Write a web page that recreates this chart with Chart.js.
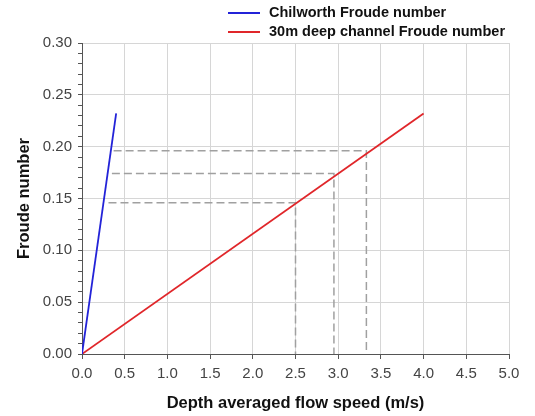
<!DOCTYPE html>
<html>
<head>
<meta charset="utf-8">
<script src="https://cdn.jsdelivr.net/npm/chart.js@4/dist/chart.umd.min.js"></script>
<style>
  html, body { margin: 0; padding: 0; background: #fff; }
  #wrap { width: 535px; height: 416px; }
</style>
</head>
<body>
<div id="wrap"><canvas id="froudeChart" width="535" height="416"></canvas></div>
<script>
// Data
const chilworthSpeed = [0, 0.4];
const chilworthFroude = [0, 0.232];
const channelSpeed = [0, 4.0];
const channelFroude = [0, 0.232];

// Dashed guide lines: start speed, Froude level, speed where it drops down
const guideStart = [0.31, 0.35, 0.37];
const guideFroude = [0.146, 0.174, 0.196];
const guideSpeed = [2.5, 2.95, 3.33];

const seriesLabels = ['Chilworth Froude number', '30m deep channel Froude number'];
const seriesColors = ['#2323d8', '#e0262a'];

const FONT = 'Liberation Sans, Arial, sans-serif';

function toPoints(xs, ys){
  return xs.map((x, i) => ({x: x, y: ys[i]}));
}

let datasets = [
  {
    label: seriesLabels[0],
    data: toPoints(chilworthSpeed, chilworthFroude),
    borderColor: seriesColors[0],
    borderWidth: 1.8,
    pointRadius: 0
  },
  {
    label: seriesLabels[1],
    data: toPoints(channelSpeed, channelFroude),
    borderColor: seriesColors[1],
    borderWidth: 1.8,
    pointRadius: 0
  }
];

// one dashed dataset per guide: across, then down to the axis
for (let i = 0; i < guideFroude.length; i++) {
  datasets.push({
    label: 'guide' + i,
    data: [
      {x: guideStart[i], y: guideFroude[i]},
      {x: guideSpeed[i], y: guideFroude[i]},
      {x: guideSpeed[i], y: 0}
    ],
    borderColor: '#a0a0a0',
    borderWidth: 1.5,
    borderDash: [8, 4],
    pointRadius: 0
  });
}

// Legend drawn by hand, top right, stacked
const stackedLegend = {
  id: 'stackedLegend',
  afterDraw(chart){
    const ctx = chart.ctx;
    ctx.save();
    ctx.font = 'bold 14.5px ' + FONT;
    ctx.textBaseline = 'middle';
    ctx.fillStyle = '#111';
    for (let i = 0; i < seriesLabels.length; i++) {
      const y = 13 + i * 19;
      ctx.strokeStyle = seriesColors[i];
      ctx.lineWidth = 2;
      ctx.beginPath();
      ctx.moveTo(228, y);
      ctx.lineTo(260, y);
      ctx.stroke();
      ctx.fillText(seriesLabels[i], 269, y);
    }
    ctx.restore();
  }
};

new Chart(document.getElementById('froudeChart'), {
  type: 'line',
  data: { datasets: datasets },
  plugins: [stackedLegend],
  options: {
    responsive: false,
    animation: false,
    layout: { padding: { left: 0, top: 43, right: 26, bottom: 0 } },
    plugins: {
      legend: { display: false },
      tooltip: { enabled: false }
    },
    scales: {
      x: {
        type: 'linear',
        min: 0,
        max: 5,
        afterFit: (scale) => { scale.height = 62; },
        ticks: {
          stepSize: 0.5,
          padding: 6,
          color: '#444',
          font: { family: FONT, size: 15 },
          callback: (v) => v.toFixed(1),
          maxRotation: 0
        },
        grid: {
          color: '#d6d6d6',
          tickColor: '#555',
          tickLength: 5
        },
        border: { color: '#555', width: 1 },
        title: {
          display: true,
          text: 'Depth averaged flow speed (m/s)',
          color: '#111',
          font: { family: FONT, size: 16.5, weight: 'bold' },
          padding: { top: 0, bottom: 3 }
        }
      },
      y: {
        min: 0,
        max: 0.3,
        afterFit: (scale) => { scale.width = 82; },
        ticks: {
          stepSize: 0.01,
          padding: 6,
          color: '#444',
          font: { family: FONT, size: 15 },
          autoSkip: false,
          callback: (v) => (Math.round(v * 100) % 5 === 0 ? v.toFixed(2) : '')
        },
        grid: {
          color: (c) => (c.tick && Math.round(c.tick.value * 100) % 5 === 0 ? '#d6d6d6' : 'rgba(0,0,0,0)'),
          tickColor: '#555',
          tickLength: 4
        },
        border: { color: '#555', width: 1 },
        title: {
          display: true,
          text: 'Froude number',
          color: '#111',
          font: { family: FONT, size: 16.5, weight: 'bold' },
          padding: { top: 15, bottom: 0 }
        }
      }
    }
  }
});
</script>
</body>
</html>
